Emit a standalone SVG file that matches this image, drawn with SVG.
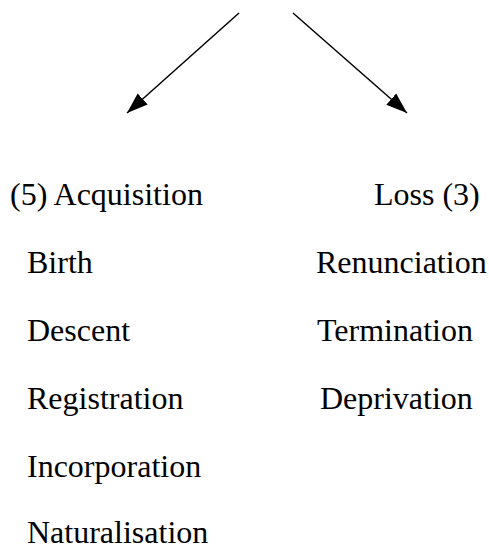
<svg xmlns="http://www.w3.org/2000/svg" width="489" height="546" viewBox="0 0 489 546">
<style>
  text { font-family: 'Liberation Serif', 'Times New Roman', Times, serif; font-size: 32px; fill: #000; }
  .conn { stroke: #000; stroke-width: 1.5; fill: none; marker-end: url(#arrow); }
</style>
<defs>
  <marker id="arrow" markerUnits="userSpaceOnUse" markerWidth="22" markerHeight="16" refX="21" refY="8" orient="auto">
    <path d="M0,0.5 L21,8 L0,15.5 z" fill="#000"/>
  </marker>
</defs>
<rect width="489" height="546" fill="#fff"/>
<g id="connectors">
  <line class="conn" x1="239" y1="13" x2="127" y2="113"/>
  <line class="conn" x1="293" y1="13" x2="407" y2="113"/>
</g>
<g font-family="Liberation Serif, serif">
<g id="acquisition"><text x="10" y="205" font-family="Liberation Serif">(5) Acquisition</text></g>
<g id="loss"><text x="374" y="205" font-family="Liberation Serif">Loss (3)</text></g>
<g id="birth"><text x="27" y="273" font-family="Liberation Serif">Birth</text></g>
<g id="descent"><text x="27" y="341" font-family="Liberation Serif">Descent</text></g>
<g id="registration"><text x="27" y="409" font-family="Liberation Serif">Registration</text></g>
<g id="incorporation"><text x="27" y="477" font-family="Liberation Serif">Incorporation</text></g>
<g id="naturalisation"><text x="27" y="543" font-family="Liberation Serif">Naturalisation</text></g>
<g id="renunciation"><text x="316" y="273" font-family="Liberation Serif">Renunciation</text></g>
<g id="termination"><text x="317" y="341" font-family="Liberation Serif">Termination</text></g>
<g id="deprivation"><text x="320" y="409" font-family="Liberation Serif">Deprivation</text></g>
</g>
</svg>
